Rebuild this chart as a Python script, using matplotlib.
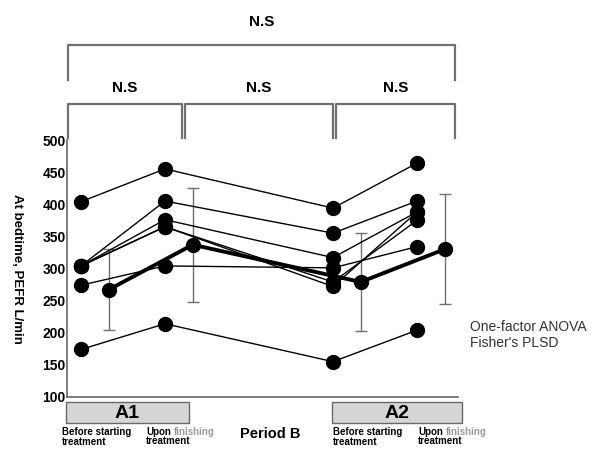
import matplotlib
matplotlib.use('Agg')
import matplotlib.pyplot as plt
import matplotlib.transforms as mtransforms
from matplotlib.patches import Rectangle

plt.rcParams['font.family'] = ['Liberation Sans', 'DejaVu Sans']

# stages: A1 before, A1 upon, A2 before, A2 upon
stage_x = [1, 2, 4, 5]
mean_shift = 0.33

# individual patients (PEFR L/min at bedtime)
p1 = [404, 455, 394, 464]
p2 = [304, 405, 355, 405]
p3 = [304, 376, 317, 388]
p4 = [304, 365, 279, 375]
p5 = [274, 304, 301, 334]
p6 = [304, 365, 272, 388]
p7 = [174, 214, 155, 204]
patients = [p1, p2, p3, p4, p5, p6, p7]

mean_vals = [267, 337, 279, 330]
sd_vals = [63, 89, 77, 86]

yticks = [100, 150, 200, 250, 300, 350, 400, 450, 500]

# figure is 592x449 px
fig = plt.figure(figsize=(5.92, 4.49), dpi=100)
ax = fig.add_axes([67 / 592, 52 / 449, 391 / 592, 257 / 449])

for p in patients:
    ax.plot(stage_x, p, color='black', lw=1.0, marker='o', ms=10,
            mec='black', mfc='black', zorder=3)

mean_x = [x + mean_shift for x in stage_x]
ax.errorbar(mean_x, mean_vals, yerr=sd_vals, fmt='none', ecolor='#707070',
            elinewidth=1.0, capsize=4, capthick=1.0, zorder=2)
ax.plot(mean_x, mean_vals, color='black', lw=2.8, marker='o', ms=10,
        zorder=4)

ax.set_xlim(1 - 14 / 84, 1 + 377 / 84)
ax.set_ylim(100, 500)
ax.set_yticks(yticks)
ax.set_yticklabels([str(t) for t in yticks], fontsize=10, fontweight='bold')
ax.tick_params(axis='y', length=0, pad=1)
ax.set_xticks([])
for s in ['top', 'right']:
    ax.spines[s].set_visible(False)
for s in ['left', 'bottom']:
    ax.spines[s].set_color('#666666')
    ax.spines[s].set_linewidth(1.2)

ax.set_ylabel('At bedtime, PEFR L/min', fontsize=9.5, fontweight='bold',
              rotation=270, va='center')
ax.yaxis.set_label_coords(-0.128, 0.5)

# x in data units, y in axes fraction (converted from pixel rows)
tr = mtransforms.blended_transform_factory(ax.transData, ax.transAxes)


def yf(pix):
    return (397 - pix) / 257


def px(pix):
    return 1 + (pix - 81) / 84


# significance brackets
def bracket(x0, x1, ytop, ybot, label, ylab, fs):
    ax.plot([px(x0), px(x0), px(x1), px(x1)],
            [yf(ybot), yf(ytop), yf(ytop), yf(ybot)],
            color='#707070', lw=1.6, transform=tr, clip_on=False)
    ax.text(px((x0 + x1) / 2), yf(ylab), label, transform=tr, ha='center',
            va='center', fontsize=fs, fontweight='bold')


bracket(68, 455, 45, 80, 'N.S', 22, 11)
bracket(68, 182, 104, 138, 'N.S', 88, 11)
bracket(185, 333, 104, 138, 'N.S', 88, 11)
bracket(336, 455, 104, 138, 'N.S', 88, 11)

# period boxes
for x0, x1, name in [(66, 189, 'A1'), (332, 462, 'A2')]:
    ax.add_patch(Rectangle((px(x0), yf(423)), px(x1) - px(x0), yf(402) - yf(423),
                           transform=tr, clip_on=False, facecolor='#d6d6d6',
                           edgecolor='#6a6a6a', lw=1.0))
    ax.text(px((x0 + x1) / 2), yf(413), name, transform=tr, ha='center',
            va='center', fontsize=14, fontweight='bold')

# labels under the boxes
small = 7
for x0 in [62, 333]:
    ax.text(px(x0), yf(427), 'Before starting\ntreatment', transform=tr,
            ha='left', va='top', fontsize=small, fontweight='bold',
            linespacing=1.0)
for x0 in [146, 418]:
    upon = ax.text(px(x0), yf(427), 'Upon', transform=tr, ha='left',
                   va='top', fontsize=small, fontweight='bold')
    ax.text(px(x0), yf(436), 'treatment', transform=tr, ha='left',
            va='top', fontsize=small, fontweight='bold')
    ax.annotate('finishing', xy=(1, 1), xycoords=upon, xytext=(2, 0),
                textcoords='offset points', ha='left', va='top',
                fontsize=small, fontweight='bold', color='#9a9a9a')
ax.text(px(270), yf(434), 'Period B', transform=tr, ha='center', va='center',
        fontsize=10.5, fontweight='bold')

fig.text(470 / 592, 1 - 335 / 449, "One-factor ANOVA\nFisher's PLSD",
         ha='left', va='center', fontsize=10, color='#333333', linespacing=1.2)

fig.savefig('out.png', dpi=100)
